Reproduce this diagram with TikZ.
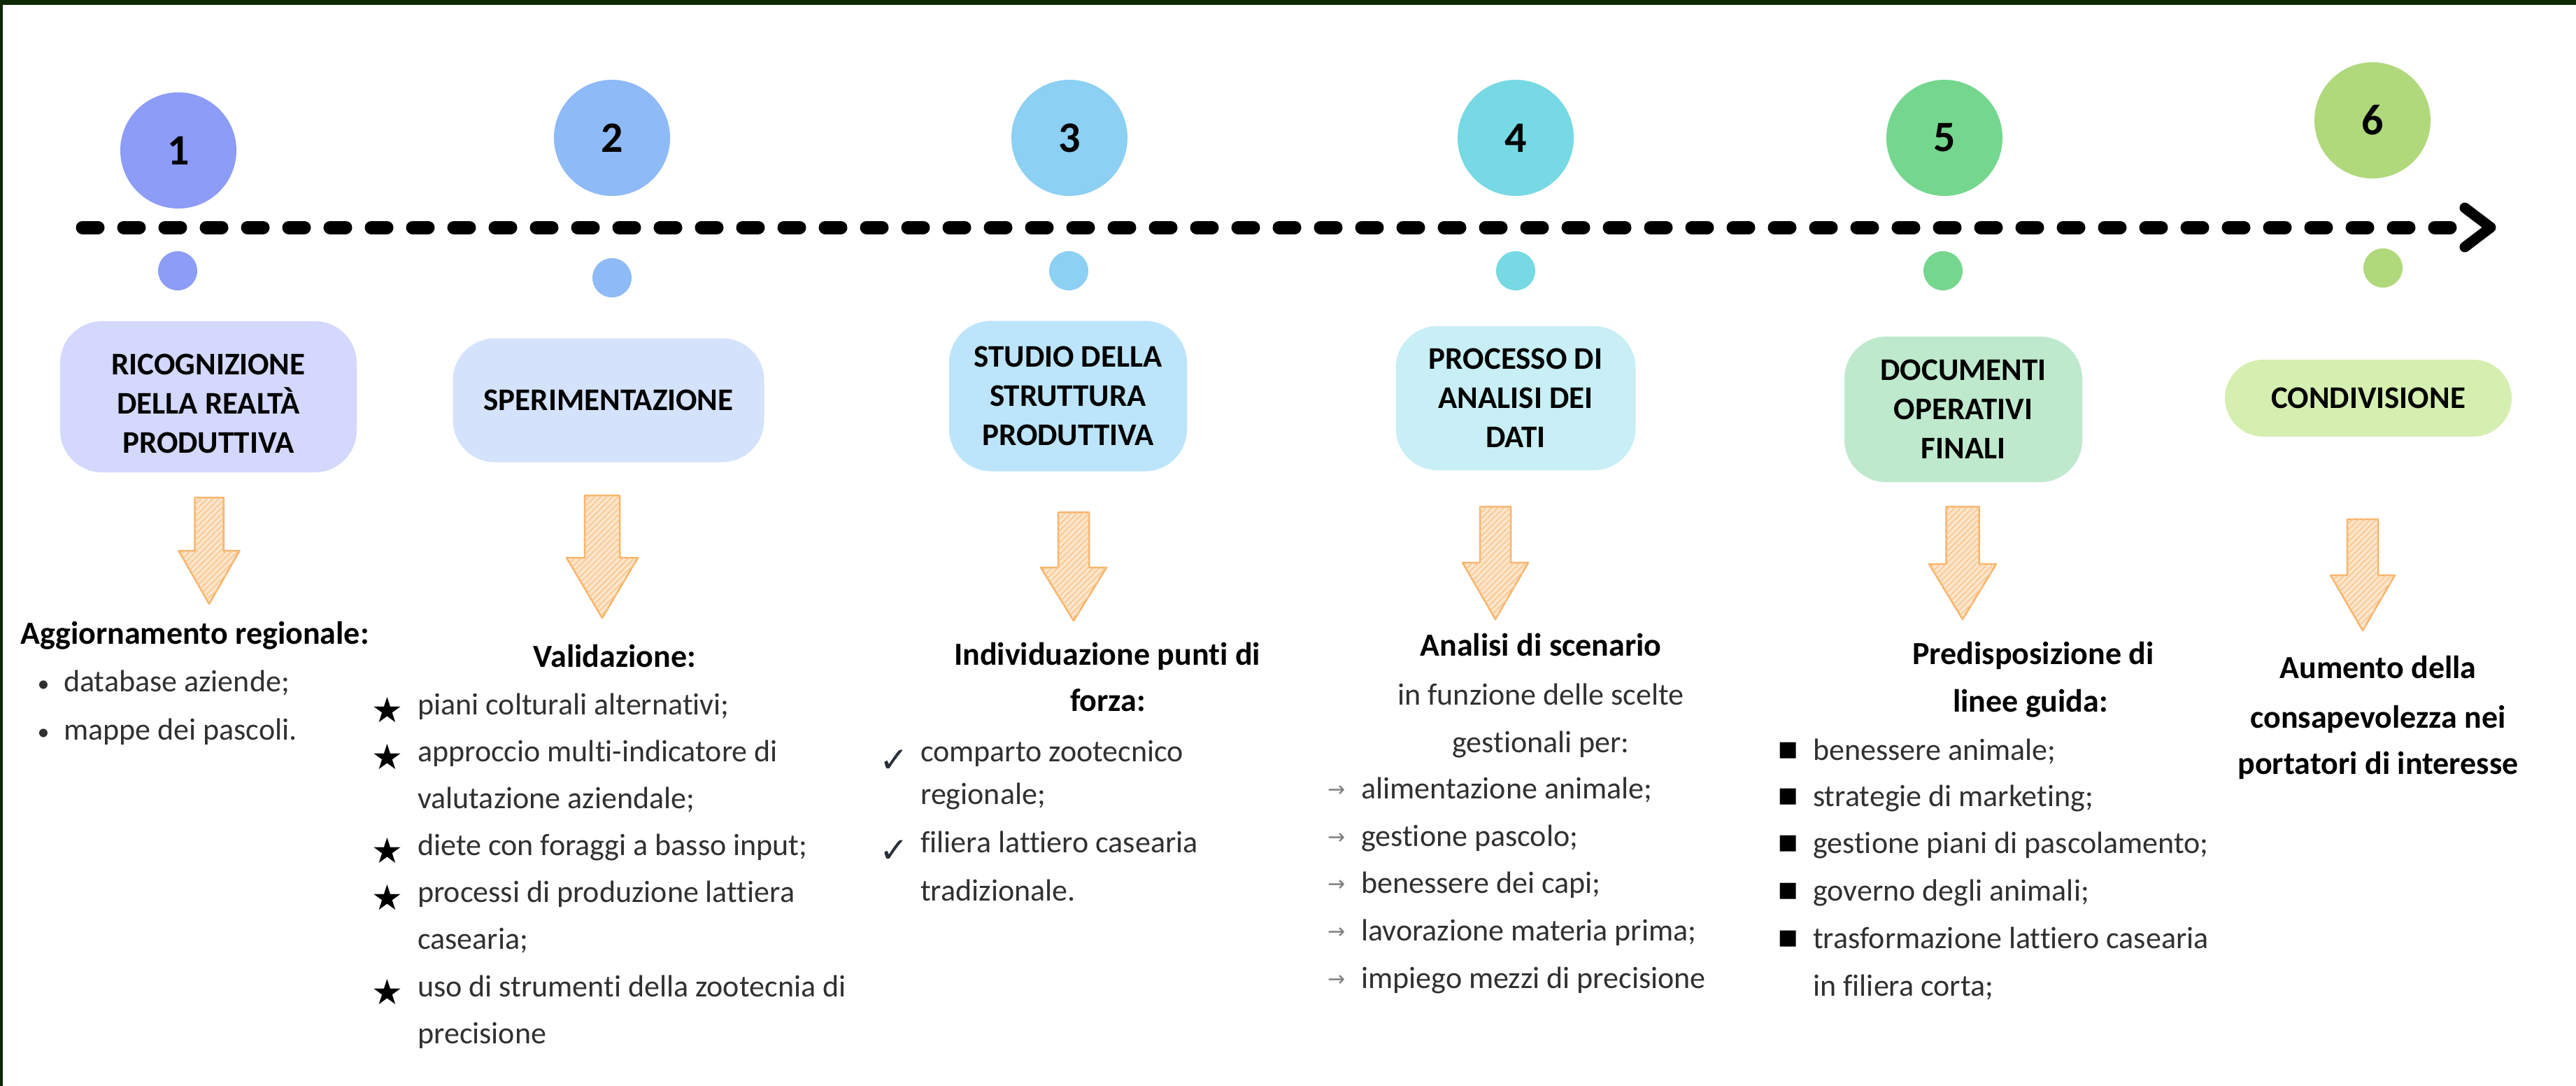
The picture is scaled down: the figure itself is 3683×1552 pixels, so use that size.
\documentclass[tikz,border=0pt]{standalone}
\usepackage{fontspec}
\setmainfont{Carlito}[Ligatures={NoCommon}]
\newfontfamily\symf{DejaVu Sans}
\usetikzlibrary{patterns.meta}
\definecolor{framec}{HTML}{0E2800}
\definecolor{ca}{HTML}{8D9CF6}
\definecolor{cb}{HTML}{8EBAF7}
\definecolor{cc}{HTML}{8CD0F3}
\definecolor{cd}{HTML}{76D9E4}
\definecolor{ce}{HTML}{75D78E}
\definecolor{cf}{HTML}{B0D97C}
\definecolor{ba}{HTML}{D3D8FC}
\definecolor{bb}{HTML}{D4E2FC}
\definecolor{bc}{HTML}{BCE5FC}
\definecolor{bd}{HTML}{C7EFF5}
\definecolor{be}{HTML}{BFE9CD}
\definecolor{bf}{HTML}{D5EFB1}
\definecolor{arrfill}{HTML}{FDE6CB}
\definecolor{arrline}{HTML}{F8B266}
\definecolor{bodytext}{HTML}{303030}
\definecolor{checkc}{HTML}{2A3038}
\newcommand\blockarrow[6]{%
  \path[arrowst] ({#1-#5/2},#2) -- ({#1+#5/2},#2) -- ({#1+#5/2},#3) -- ({#1+#6/2},#3)
    -- (#1,#4) -- ({#1-#6/2},#3) -- ({#1-#5/2},#3) -- cycle;}
\begin{document}
\begin{tikzpicture}[x=1pt,y=-1pt,
  numc/.style={circle,inner sep=0pt,minimum size=166pt,font=\fontsize{62}{62}\selectfont\bfseries},
  dotc/.style={circle,inner sep=0pt,minimum size=56pt},
  box/.style={rounded corners=60pt,align=center,inner sep=0pt,font=\fontsize{45}{56}\selectfont\bfseries},
  arrowst/.style={fill=arrfill,draw=arrline,line width=2.5pt,line join=round,
     postaction={pattern={Lines[angle=45,distance=6pt,line width=1.8pt]},pattern color=arrline!70}},
  body/.style={anchor=base west,inner sep=0pt,font=\fontsize{44}{54}\selectfont,text=bodytext},
  head/.style={anchor=base,inner sep=0pt,font=\fontsize{46}{56}\selectfont\bfseries},
  bodyc/.style={anchor=base,inner sep=0pt,font=\fontsize{44}{54}\selectfont,text=bodytext},
  starm/.style={anchor=base,inner sep=0pt,font=\symf\fontsize{50}{50}\selectfont},
  checkm/.style={anchor=base,inner sep=0pt,font=\symf\fontsize{50}{50}\selectfont,text=checkc},
  arrm/.style={anchor=base,inner sep=0pt,font=\symf\fontsize{30}{30}\selectfont,text=black!50},
  sqm/.style={anchor=base,inner sep=0pt,font=\symf\fontsize{30}{30}\selectfont},
  bulm/.style={anchor=base,inner sep=0pt,font=\fontsize{34}{34}\selectfont,text=bodytext}
]
\useasboundingbox (0,0) rectangle (3683,1552);
\fill[white] (0,0) rectangle (3683,1552);
\fill[framec] (0,0) rectangle (3683,7);
\fill[framec] (0,0) rectangle (4,1552);

% timeline
\coordinate (ls) at (118,325);
\coordinate (le) at (3508,325);
\draw[line width=19pt,line cap=round,dash pattern=on 22pt off 37pt] (ls) -- (le);
\coordinate (ha) at (3524,297);
\coordinate (hb) at (3561,325);
\coordinate (hc) at (3524,353);
\draw[line width=15pt,line cap=round,line join=round] (ha) -- (hb) -- (hc);

% numbered circles
\node[numc,fill=ca] (n1) at (255,215) {1};
\node[numc,fill=cb] (n2) at (875,197) {2};
\node[numc,fill=cc] (n3) at (1529,197) {3};
\node[numc,fill=cd] (n4) at (2167,197) {4};
\node[numc,fill=ce] (n5) at (2780,197) {5};
\node[numc,fill=cf] (n6) at (3392,172) {6};

% small dots
\node[dotc,fill=ca] (d1) at (254,387) {};
\node[dotc,fill=cb] (d2) at (875,397) {};
\node[dotc,fill=cc] (d3) at (1528,387) {};
\node[dotc,fill=cd] (d4) at (2167,387) {};
\node[dotc,fill=ce] (d5) at (2778,387) {};
\node[dotc,fill=cf] (d6) at (3407,383) {};

% boxes
\node[box,fill=ba,minimum width=424pt,minimum height=216pt] (b1) at (298,567) {};
\node[box] (b1t) at (298,577) {RICOGNIZIONE\\DELLA REALTÀ\\PRODUTTIVA};
\node[box,fill=bb,minimum width=445pt,minimum height=177pt] (b2) at (870,572) {SPERIMENTAZIONE};
\node[box,fill=bc,minimum width=340pt,minimum height=215pt] (b3) at (1527,566) {STUDIO DELLA\\STRUTTURA\\PRODUTTIVA};
\node[box,fill=bd,minimum width=343pt,minimum height=206pt] (b4) at (2167,569) {PROCESSO DI\\ANALISI DEI\\DATI};
\node[box,fill=be,minimum width=340pt,minimum height=208pt] (b5) at (2807,585) {DOCUMENTI\\OPERATIVI\\FINALI};
\node[box,fill=bf,minimum width=410pt,minimum height=110pt,rounded corners=55pt] (b6) at (3386,569) {CONDIVISIONE};

% block arrows
\blockarrow{299}{711}{787}{863}{41}{87}
\blockarrow{861}{708}{797}{883}{50}{102}
\blockarrow{1535}{732}{811}{887}{44}{94}
\blockarrow{2138}{724}{804}{885}{44}{94}
\blockarrow{2806}{724}{806}{885}{47}{96}
\blockarrow{3378}{742}{822}{901}{44}{92}

% column 1
\node[head,anchor=base west] (h1) at (29,920) {Aggiornamento regionale:};
\node[bulm] (p1a) at (62,988) {•};
\node[bulm] (p1b) at (62,1057) {•};
\node[body] (t1a) at (91,988) {database aziende;};
\node[body] (t1b) at (91,1057) {mappe dei pascoli.};

% column 2
\node[head] (h2) at (879,953) {Validazione:};
\foreach \t/\y [count=\i] in {{piani colturali alternativi;}/1021,{approccio multi-indicatore di}/1088,
  {valutazione aziendale;}/1155,{diete con foraggi a basso input;}/1222,{processi di produzione lattiera}/1289,
  {casearia;}/1356,{uso di strumenti della zootecnia di}/1424,{precisione}/1491}
  \node[body] (v\i) at (597,\y) {\t};
\foreach \y [count=\i] in {1021,1088,1222,1289,1424}
  \node[starm] (s\i) at (554,{\y+11}) {★};

% column 3
\node[head] (h3a) at (1583,950) {Individuazione punti di};
\node[head] (h3b) at (1584,1016) {forza:};
\foreach \t/\y [count=\i] in {{comparto zootecnico}/1088,{regionale;}/1149,{filiera lattiero casearia}/1218,{tradizionale.}/1287}
  \node[body] (w\i) at (1316,\y) {\t};
\node[checkm] (k1) at (1278,1103) {✓};
\node[checkm] (k2) at (1278,1232) {✓};

% column 4
\node[head] (h4) at (2203,937) {Analisi di scenario};
\node[bodyc] (h4b) at (2203,1007) {in funzione delle scelte};
\node[bodyc] (h4c) at (2203,1075) {gestionali per:};
\foreach \t/\y [count=\i] in {{alimentazione animale;}/1141,{gestione pascolo;}/1209,{benessere dei capi;}/1276,
  {lavorazione materia prima;}/1344,{impiego mezzi di precisione}/1412}
  {\node[body] (x\i) at (1946,\y) {\t};
   \node[arrm] (xa\i) at (1911,{\y-3}) {→};}

% column 5
\node[head] (h5a) at (2907,949) {Predisposizione di};
\node[head] (h5b) at (2903,1017) {linee guida:};
\foreach \t/\y [count=\i] in {{benessere animale;}/1086,{strategie di marketing;}/1152,{gestione piani di pascolamento;}/1219,
  {governo degli animali;}/1287,{trasformazione lattiero casearia}/1355,{in filiera corta;}/1423}
  \node[body] (y\i) at (2592,\y) {\t};
\foreach \y [count=\i] in {1086,1152,1219,1287,1355}
  \node[sqm] (q\i) at (2557,{\y-6}) {■};

% column 6
\node[head] (h6a) at (3400,969) {Aumento della};
\node[head] (h6b) at (3400,1040) {consapevolezza nei};
\node[head] (h6c) at (3400,1106) {portatori di interesse};
\end{tikzpicture}
\end{document}
